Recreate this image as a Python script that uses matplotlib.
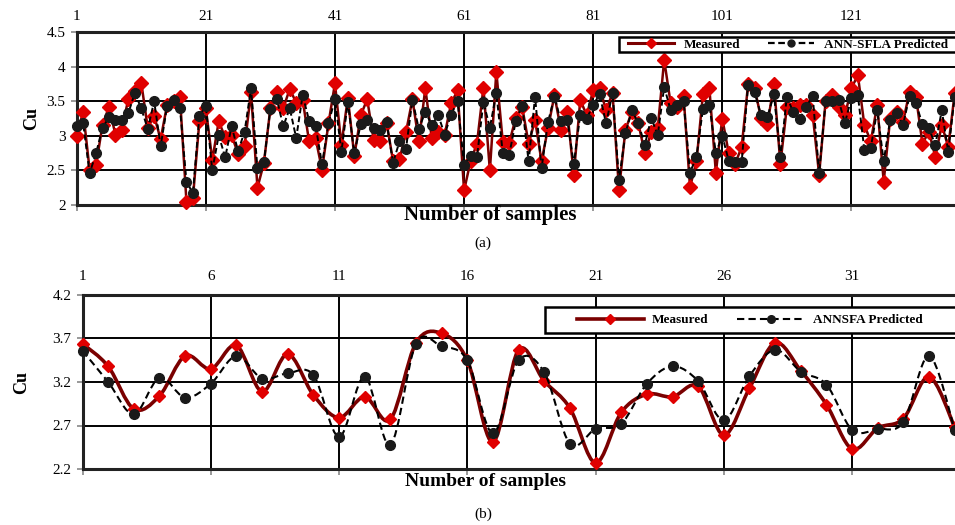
import numpy as np
import matplotlib
matplotlib.use("Agg")
import matplotlib.pyplot as plt
from matplotlib.path import Path
from matplotlib.patches import PathPatch, Rectangle
from matplotlib.lines import Line2D

# ---------------- data ----------------
measured_a = [3.00, 3.35, 2.51, 2.58, 3.16, 3.42, 3.02, 3.09, 3.54, 3.65,
              3.77, 3.12, 3.29, 2.95, 3.45, 3.50, 3.56, 2.05, 2.10, 3.21,
              3.40, 2.65, 3.21, 2.98, 3.01, 2.74, 2.85, 3.63, 2.25, 2.61,
              3.40, 3.63, 3.40, 3.68, 3.48, 3.52, 2.92, 2.97, 2.51, 3.18,
              3.76, 2.87, 3.55, 2.71, 3.30, 3.53, 2.94, 2.92, 3.19, 2.64,
              2.66, 3.05, 3.53, 2.92, 3.69, 2.97, 3.05, 3.02, 3.47, 3.66,
              2.21, 2.63, 2.89, 3.70, 2.50, 3.93, 2.91, 2.90, 3.26, 3.42,
              2.89, 3.23, 2.63, 3.11, 3.59, 3.09, 3.34, 2.44, 3.52, 3.30,
              3.66, 3.70, 3.37, 3.62, 2.22, 3.09, 3.35, 3.18, 2.75, 3.06,
              3.11, 4.10, 3.47, 3.42, 3.58, 2.26, 2.63, 3.60, 3.69, 2.47,
              3.25, 2.75, 2.60, 2.84, 3.75, 3.69, 3.26, 3.17, 3.75, 2.60,
              3.42, 3.40, 3.45, 3.45, 3.31, 2.44, 3.50, 3.59, 3.42, 3.30,
              3.69, 3.88, 3.16, 2.92, 3.45, 2.34, 3.25, 3.34, 3.20, 3.64,
              3.57, 2.89, 3.06, 2.70, 3.16, 2.84, 3.62]
predicted_a = [3.15, 3.18, 2.46, 2.75, 3.12, 3.27, 3.23, 3.23, 3.33, 3.62,
               3.40, 3.10, 3.50, 2.85, 3.43, 3.52, 3.40, 2.34, 2.17, 3.29,
               3.43, 2.50, 3.01, 2.69, 3.14, 2.78, 3.06, 3.69, 2.53, 2.62,
               3.39, 3.53, 3.14, 3.40, 2.97, 3.59, 3.22, 3.15, 2.59, 3.18,
               3.53, 2.77, 3.49, 2.75, 3.17, 3.23, 3.12, 3.09, 3.20, 2.61,
               2.92, 2.81, 3.52, 3.10, 3.35, 3.16, 3.30, 3.02, 3.31, 3.50,
               2.58, 2.71, 2.69, 3.49, 3.12, 3.62, 2.75, 2.73, 3.21, 3.44,
               2.63, 3.57, 2.53, 3.20, 3.57, 3.21, 3.23, 2.59, 3.31, 3.25,
               3.45, 3.60, 3.18, 3.62, 2.36, 3.04, 3.37, 3.18, 2.87, 3.26,
               3.01, 3.71, 3.37, 3.45, 3.50, 2.47, 2.70, 3.39, 3.45, 2.75,
               3.00, 2.64, 2.62, 2.62, 3.74, 3.64, 3.30, 3.28, 3.60, 2.70,
               3.57, 3.34, 3.25, 3.42, 3.58, 2.46, 3.50, 3.50, 3.52, 3.19,
               3.55, 3.59, 2.80, 2.83, 3.37, 2.63, 3.23, 3.33, 3.16, 3.58,
               3.47, 3.17, 3.11, 2.87, 3.37, 2.77, 3.57]

measured_b = [3.64, 3.38, 2.89, 3.04, 3.50, 3.35, 3.62, 3.09, 3.52, 3.05,
              2.79, 3.03, 2.77, 3.65, 3.76, 3.45, 2.51, 3.57, 3.21, 2.90,
              2.27, 2.85, 3.06, 3.03, 3.15, 2.59, 3.13, 3.65, 3.33, 2.94,
              2.43, 2.67, 2.78, 3.26, 2.68]
predicted_b = [3.56, 3.20, 2.83, 3.25, 3.02, 3.18, 3.50, 3.24, 3.30, 3.28,
               2.57, 3.26, 2.48, 3.64, 3.61, 3.45, 2.61, 3.45, 3.31, 2.49,
               2.66, 2.72, 3.18, 3.38, 3.21, 2.76, 3.27, 3.57, 3.32, 3.17,
               2.65, 2.66, 2.74, 3.50, 2.65]

xticks_a = [1, 21, 41, 61, 81, 101, 121]
yticks_a = [2, 2.5, 3, 3.5, 4, 4.5]
xticks_b = [1, 6, 11, 16, 21, 26, 31]
yticks_b = [2.2, 2.7, 3.2, 3.7, 4.2]

label_meas = "Measured"
label_pred_a = "ANN-SFLA Predicted"
label_pred_b = "ANNSFA Predicted"

# ---------------- style ----------------
SERIF = ["Liberation Serif", "DejaVu Serif"]
plt.rcParams["font.family"] = SERIF
RED_LINE = "#7a0000"
RED_MK = "#e00000"
BLK = "#1a1a1a"

W, H = 955, 525
fig = plt.figure(figsize=(W / 100, H / 100), dpi=100)


def px_axes(l, t, r, b):
    return fig.add_axes([l / W, 1 - b / H, (r - l) / W, (b - t) / H])


def px_box(l, t, r, b):
    fig.patches.append(Rectangle((l / W, 1 - b / H), (r - l) / W, (b - t) / H,
                                 transform=fig.transFigure, facecolor="white",
                                 edgecolor="black", lw=1.8, zorder=5))


def smooth_path(x, y):
    x = np.asarray(x, float)
    y = np.asarray(y, float)
    n = len(x)
    verts = [(x[0], y[0])]
    codes = [Path.MOVETO]
    for i in range(n - 1):
        i0 = max(i - 1, 0)
        i3 = min(i + 2, n - 1)
        c1 = (x[i] + (x[i + 1] - x[i0]) / 6, y[i] + (y[i + 1] - y[i0]) / 6)
        c2 = (x[i + 1] - (x[i3] - x[i]) / 6, y[i + 1] - (y[i3] - y[i]) / 6)
        verts += [c1, c2, (x[i + 1], y[i + 1])]
        codes += [Path.CURVE4] * 3
    return Path(verts, codes)


def style_axes(ax, xticks, yticks, xlim, ylim, fmt, xpad):
    ax.set_xlim(*xlim)
    ax.set_ylim(*ylim)
    ax.set_xticks(xticks)
    ax.set_yticks(yticks)
    ax.set_yticklabels([fmt(v) for v in yticks])
    ax.xaxis.tick_top()
    ax.tick_params(axis="x", which="both", top=False, bottom=True,
                   labeltop=True, labelbottom=False, length=4, width=1.2,
                   direction="out", labelsize=11, pad=xpad, color="#888888")
    ax.tick_params(axis="y", length=4, width=1.2, direction="out",
                   labelsize=11, pad=4, color="#888888")
    ax.grid(True, color="black", linewidth=1.4)
    ax.set_axisbelow(True)
    for s in ["top", "bottom", "left"]:
        ax.spines[s].set_linewidth(2.2)
        ax.spines[s].set_color("#222222")
    ax.spines["right"].set_visible(False)


# ---------------- (a) ----------------
xa = np.arange(1, len(measured_a) + 1)
axa = px_axes(76.7, 32.3, 956, 205)
style_axes(axa, xticks_a, yticks_a, (1, 137.2), (2, 4.5),
           lambda v: ("%g" % v), 3)
axa.plot(xa, measured_a, color=RED_LINE, lw=1.8, marker="D", ms=6.8,
         mfc=RED_MK, mec=RED_MK, zorder=3, clip_on=False)
axa.plot(xa, predicted_a, color="black", lw=1.4, ls=(0, (3, 1.6)),
         marker="o", ms=7, mfc=BLK, mec=BLK, zorder=4, clip_on=False)
axa.set_ylabel("Cu", fontsize=13, fontweight="bold", labelpad=5)

fig.text(490 / W, 1 - 215 / H, "Number of samples", ha="center",
         va="center", fontsize=15, fontweight="bold")
fig.text(483 / W, 1 - 243 / H, "(a)", ha="center", va="center", fontsize=11)

px_box(619, 37, 975, 52)
ha1 = Line2D([], [], color=RED_LINE, lw=2.2, marker="D", ms=5,
             mfc=RED_MK, mec=RED_MK)
ha2 = Line2D([], [], color="black", lw=1.6, ls=(0, (3, 1.6)), marker="o",
             ms=5, mfc=BLK, mec=BLK)
lga = fig.legend([ha1, ha2], [label_meas, label_pred_a], ncol=2,
                 loc="center left", bbox_to_anchor=(621 / W, 1 - 44.5 / H),
                 frameon=False, borderpad=0.0, handlelength=3.5,
                 handletextpad=0.75, columnspacing=2.1,
                 prop={"family": SERIF, "weight": "bold", "size": 9.5})
lga.set_zorder(6)

# ---------------- (b) ----------------
xb = np.arange(1, len(measured_b) + 1)
axb = px_axes(82.5, 295, 956, 469)
style_axes(axb, xticks_b, yticks_b, (1, 35.05), (2.2, 4.2),
           lambda v: "%.1f" % v, 5)
axb.add_patch(PathPatch(smooth_path(xb, measured_b), fill=False,
                        edgecolor=RED_LINE, lw=2.6, zorder=3))
axb.plot(xb, measured_b, ls="none", marker="D", ms=6.5, mfc=RED_MK,
         mec=RED_MK, zorder=3, clip_on=False)
axb.add_patch(PathPatch(smooth_path(xb, predicted_b), fill=False,
                        edgecolor="black", lw=1.5, ls=(0, (3.5, 2)),
                        zorder=4))
axb.plot(xb, predicted_b, ls="none", marker="o", ms=7, mfc=BLK, mec=BLK,
         zorder=4, clip_on=False)
axb.set_ylabel("Cu", fontsize=13, fontweight="bold", labelpad=16)

fig.text(485 / W, 1 - 481 / H, "Number of samples", ha="center",
         va="center", fontsize=14, fontweight="bold")
fig.text(483 / W, 1 - 514 / H, "(b)", ha="center", va="center", fontsize=11)

px_box(545, 307, 975, 333)
hb1 = Line2D([], [], color=RED_LINE, lw=2.6, marker="D", ms=5.5,
             mfc=RED_MK, mec=RED_MK)
hb2 = Line2D([], [], color="black", lw=1.5, ls=(0, (3.5, 2)), marker="o",
             ms=5.5, mfc=BLK, mec=BLK)
lgb = fig.legend([hb1, hb2], [label_meas, label_pred_b], ncol=2,
                 loc="center left", bbox_to_anchor=(570 / W, 1 - 320 / H),
                 frameon=False, borderpad=0.0, handlelength=5.1,
                 handletextpad=0.6, columnspacing=2.2,
                 prop={"family": SERIF, "weight": "bold", "size": 9.5})
lgb.set_zorder(6)

fig.savefig("out.png", dpi=100)
